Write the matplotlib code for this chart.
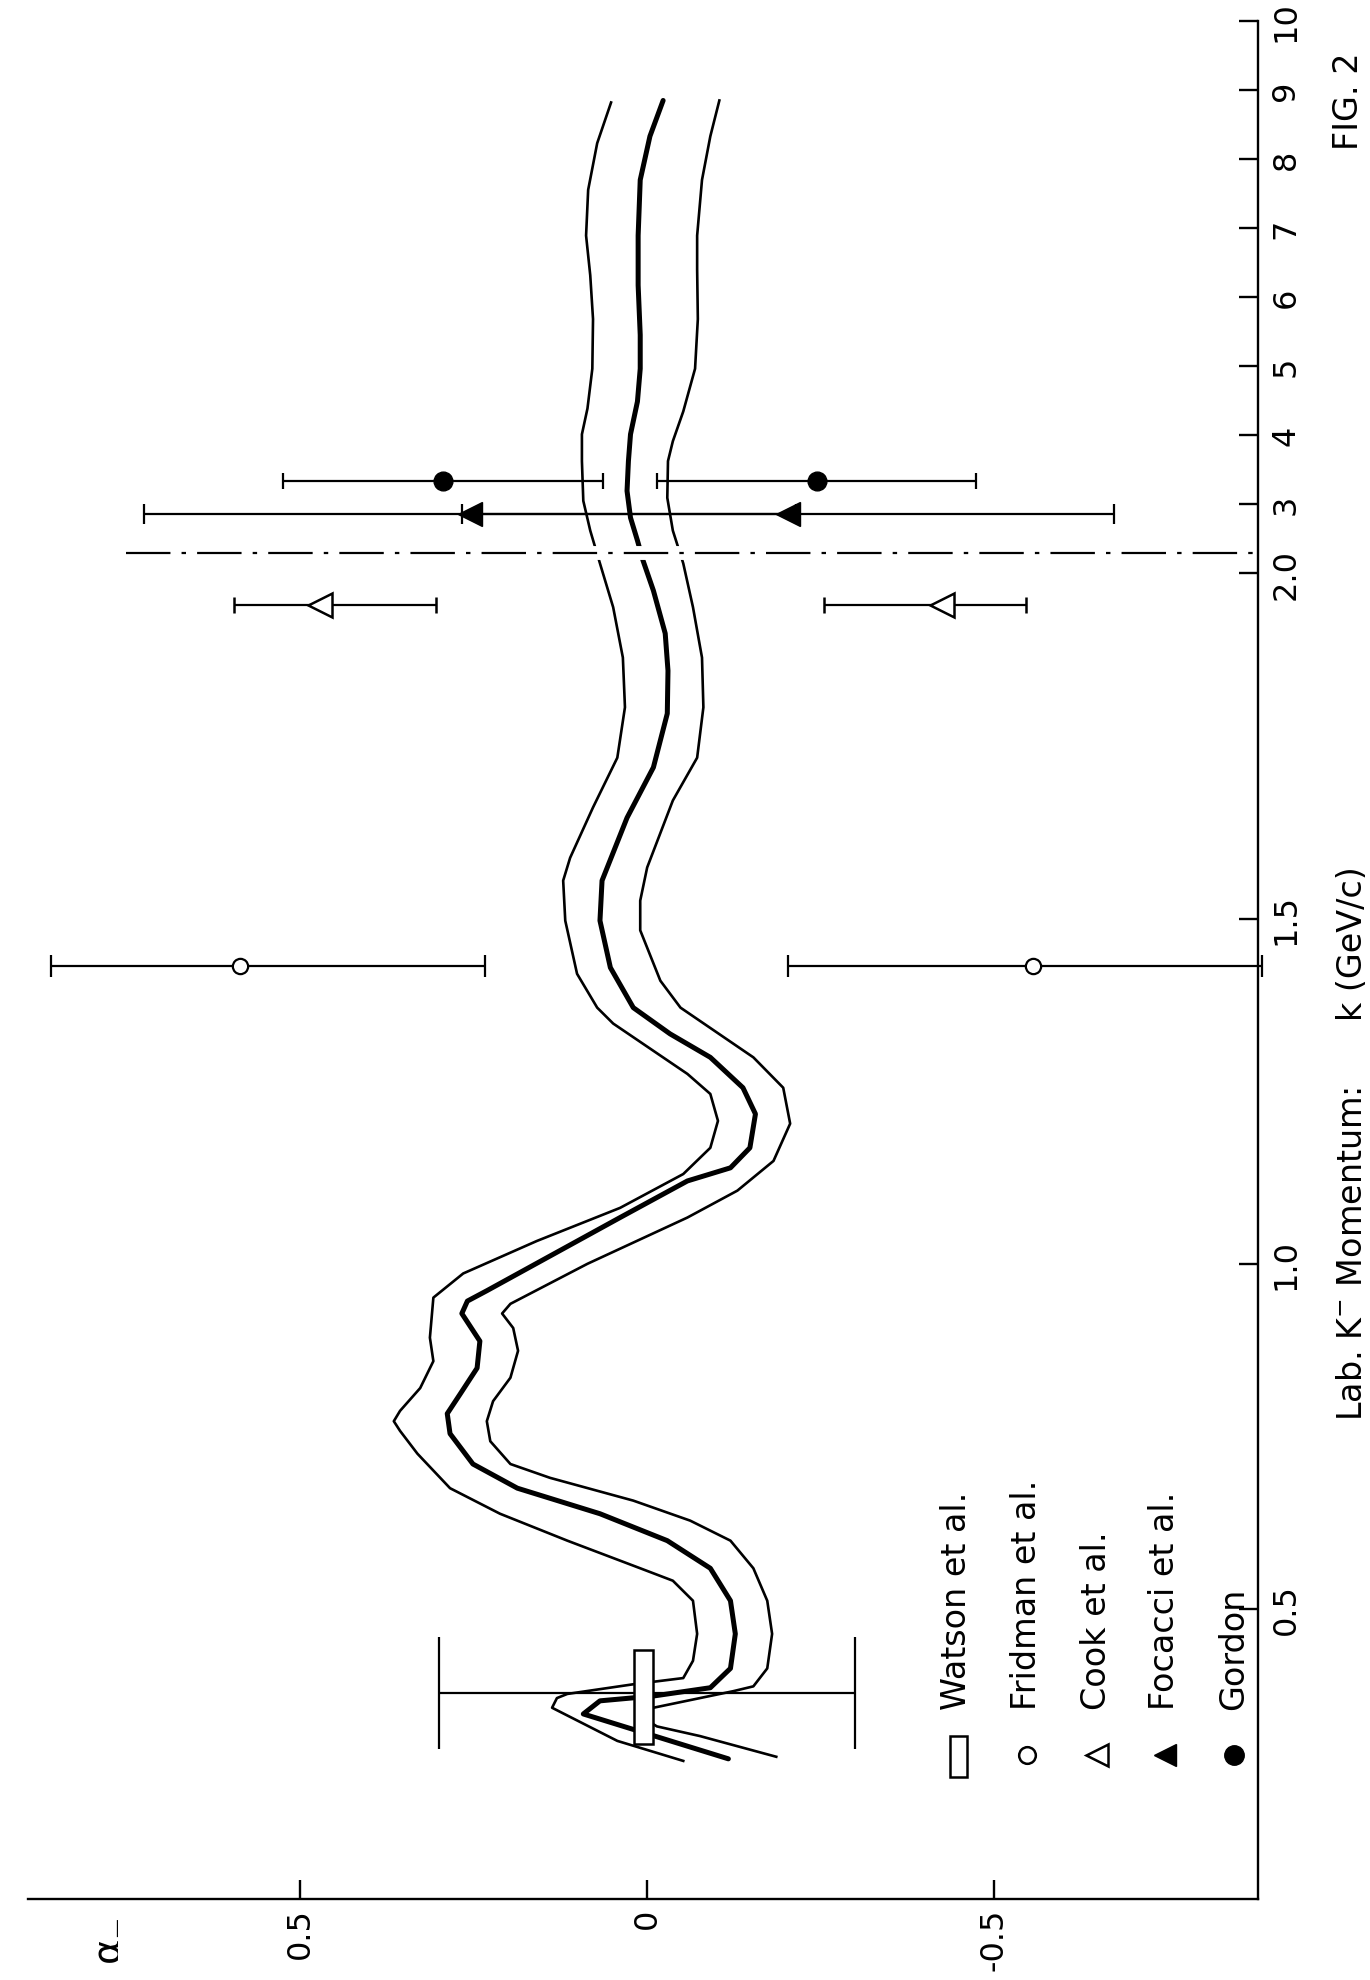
import numpy as np
import matplotlib.pyplot as plt
from matplotlib.patches import Rectangle
from matplotlib.lines import Line2D

# central solution (thick) and the two error-band edges (thin)
K_MID = [0.283, 0.348, 0.367, 0.374, 0.386, 0.414, 0.464, 0.512, 0.559, 0.599,
         0.638, 0.675, 0.710, 0.754, 0.783, 0.812, 0.849, 0.888, 0.928, 0.946,
         0.961, 1.014, 1.067, 1.120, 1.139, 1.168, 1.217, 1.255, 1.299, 1.333,
         1.371, 1.429, 1.497, 1.555, 1.646, 1.719, 1.797, 1.859, 1.913, 1.975,
         2.187, 2.475, 2.806, 3.194, 3.626, 4.014, 4.489, 4.964, 5.453, 6.173,
         6.892, 7.698, 8.331, 8.849]
A_MID = [-0.117, 0.092, 0.068, -0.009, -0.091, -0.120, -0.127, -0.120, -0.091, -0.029,
         0.068, 0.187, 0.251, 0.284, 0.288, 0.269, 0.245, 0.241, 0.267, 0.259,
         0.231, 0.135, 0.039, -0.058, -0.120, -0.148, -0.156, -0.138, -0.091, -0.033,
         0.020, 0.053, 0.068, 0.065, 0.029, -0.009, -0.029, -0.030, -0.026, -0.009,
         0.006, 0.014, 0.024, 0.029, 0.027, 0.024, 0.014, 0.010, 0.010, 0.013,
         0.013, 0.010, -0.004, -0.023]

K_UP = [0.280, 0.309, 0.357, 0.371, 0.377, 0.391, 0.400, 0.425, 0.464, 0.512,
        0.541, 0.559, 0.599, 0.638, 0.675, 0.725, 0.758, 0.772, 0.787, 0.820,
        0.859, 0.893, 0.951, 0.986, 1.033, 1.081, 1.130, 1.168, 1.207, 1.246,
        1.275, 1.348, 1.371, 1.420, 1.497, 1.555, 1.588, 1.661, 1.733, 1.806,
        1.878, 1.951, 2.144, 2.619, 3.050, 3.626, 4.014, 4.388, 4.964, 5.683,
        6.317, 6.892, 7.554, 8.230, 8.820]
A_UP = [-0.052, 0.043, 0.137, 0.130, 0.115, 0.020, -0.052, -0.066, -0.072, -0.066,
        -0.037, 0.010, 0.115, 0.212, 0.284, 0.331, 0.356, 0.365, 0.356, 0.327,
        0.308, 0.313, 0.308, 0.265, 0.159, 0.039, -0.052, -0.091, -0.102, -0.091,
        -0.058, 0.049, 0.072, 0.101, 0.118, 0.121, 0.111, 0.078, 0.043, 0.032,
        0.035, 0.049, 0.068, 0.082, 0.092, 0.094, 0.094, 0.086, 0.079, 0.078,
        0.082, 0.088, 0.085, 0.072, 0.052]

K_LO = [0.286, 0.316, 0.330, 0.345, 0.357, 0.381, 0.388, 0.414, 0.464, 0.512,
        0.559, 0.599, 0.628, 0.657, 0.690, 0.710, 0.743, 0.772, 0.801, 0.835,
        0.874, 0.907, 0.928, 0.942, 1.000, 1.067, 1.106, 1.149, 1.203, 1.255,
        1.299, 1.371, 1.410, 1.483, 1.526, 1.574, 1.671, 1.733, 1.806, 1.878,
        1.951, 2.144, 2.619, 3.094, 3.626, 3.914, 4.345, 4.964, 5.683, 6.403,
        6.892, 7.698, 8.331, 8.849]
A_LO = [-0.186, -0.076, -0.014, 0.010, -0.009, -0.124, -0.153, -0.173, -0.180, -0.173,
        -0.153, -0.120, -0.062, 0.020, 0.140, 0.197, 0.226, 0.231, 0.222, 0.197,
        0.186, 0.193, 0.209, 0.197, 0.086, -0.058, -0.130, -0.182, -0.206, -0.196,
        -0.153, -0.048, -0.019, 0.010, 0.010, 0.000, -0.037, -0.072, -0.081, -0.079,
        -0.066, -0.052, -0.037, -0.029, -0.030, -0.037, -0.052, -0.069, -0.073, -0.072,
        -0.072, -0.079, -0.091, -0.104]

# measurements: alpha values with (lower, upper) errors
WATSON_K = [0.378]
WATSON_A = [0.0]
WATSON_ERR = [0.30]
WATSON_KSPAN = (0.305, 0.440)
WATSON_ASPAN = (-0.009, 0.019)

FRIDMAN_K = [1.432, 1.432]
FRIDMAN_A = [0.586, -0.556]
FRIDMAN_LO = [0.353, 0.330]
FRIDMAN_HI = [0.273, 0.353]

COOK_K = [1.954, 1.954]
COOK_A = [0.471, -0.425]
COOK_LO = [0.167, 0.121]
COOK_HI = [0.124, 0.170]

FOCACCI_K = [2.86, 2.86]
FOCACCI_A = [0.255, -0.203]
FOCACCI_ERR = [0.47, 0.47]

GORDON_K = [3.34, 3.34]
GORDON_A = [0.294, -0.244]
GORDON_ERR = [0.23, 0.23]

BREAK_K = 2.30

K_TICKS = [0.5, 1.0, 1.5, 2.0, 3, 4, 5, 6, 7, 8, 9, 10]
K_LABELS = ["0.5", "1.0", "1.5", "2.0", "3", "4", "5", "6", "7", "8", "9", "10"]
A_TICKS = [0.5, 0, -0.5]
A_LABELS = ["0.5", "0", "-0.5"]

LEGEND_LABELS = ["Watson et al.", "Fridman et al.", "Cook et al.",
                 "Focacci et al.", "Gordon"]


def fwd(k):
    k = np.asarray(k, dtype=float)
    return np.where(k <= 2, k, 2 + (k - 2) / 10.0)


def inv(u):
    u = np.asarray(u, dtype=float)
    return np.where(u <= 2, u, 2 + (u - 2) * 10.0)


W, H = 1370, 1981
fig = plt.figure(figsize=(W / 100, H / 100), dpi=100)


def fx(x):
    return x / W


def fy(y):
    return 1 - y / H


# the page is printed sideways: alpha runs right-to-left along the bottom,
# momentum runs upward along the right edge
ax = fig.add_axes([fx(28), fy(1900), fx(1258) - fx(28), fy(22) - fy(1900)])
ax.set_yscale("function", functions=(fwd, inv))
ax.set_xlim(0.892, -0.880)
ax.set_ylim(0.08, 10)

for s in ("top", "left"):
    ax.spines[s].set_visible(False)
for s in ("bottom", "right"):
    ax.spines[s].set_linewidth(1.7)

ax.yaxis.tick_right()
ax.set_yticks(K_TICKS)
ax.set_yticklabels(K_LABELS)
ax.set_xticks(A_TICKS)
ax.set_xticklabels(A_LABELS)
ax.minorticks_off()
ax.tick_params(axis="both", direction="in", length=14, width=1.7,
               labelsize=23)
ax.tick_params(axis="x", pad=6)
ax.tick_params(axis="y", pad=9)
for lbl in ax.get_xticklabels():
    lbl.set_rotation(90)
for lbl in ax.get_yticklabels():
    lbl.set_rotation(90)
    lbl.set_va("center")

# curves
ax.plot(A_UP, K_UP, color="black", lw=1.9, zorder=2)
ax.plot(A_LO, K_LO, color="black", lw=1.9, zorder=2)
ax.plot(A_MID, K_MID, color="black", lw=3.6, zorder=2,
        solid_capstyle="round", solid_joinstyle="round")

# threshold line; the curves are broken where they cross it
ax.axhline(BREAK_K, xmin=0.40, xmax=0.62, color="white", lw=10, zorder=2.5)
ax.axhline(BREAK_K, xmin=0.08, xmax=1.0, color="black", lw=1.6,
           dashes=(20, 5, 2, 5), zorder=2.6)

ebkw = dict(color="black", ecolor="black", elinewidth=1.6, capthick=1.6,
            zorder=3, clip_on=False)

ax.errorbar(WATSON_A, WATSON_K, xerr=WATSON_ERR, fmt="none", capsize=40, **ebkw)
ax.add_patch(Rectangle((WATSON_ASPAN[0], WATSON_KSPAN[0]),
                       WATSON_ASPAN[1] - WATSON_ASPAN[0],
                       WATSON_KSPAN[1] - WATSON_KSPAN[0],
                       facecolor="white", edgecolor="black", lw=1.8, zorder=4))

ax.errorbar(FRIDMAN_A, FRIDMAN_K, xerr=[FRIDMAN_LO, FRIDMAN_HI], fmt="o",
            ms=11, mfc="white", mec="black", mew=1.6, capsize=8, **ebkw)
ax.errorbar(COOK_A, COOK_K, xerr=[COOK_LO, COOK_HI], fmt="<",
            ms=17, mfc="white", mec="black", mew=1.8, capsize=6, **ebkw)
ax.errorbar(FOCACCI_A, FOCACCI_K, xerr=FOCACCI_ERR, fmt="<",
            ms=17, mfc="black", mec="black", capsize=7, **ebkw)
ax.errorbar(GORDON_A, GORDON_K, xerr=GORDON_ERR, fmt="o",
            ms=13.5, mfc="black", mec="black", capsize=5.5, **ebkw)

# hand-drawn key in the lower left corner
key_x = [957, 1027, 1097, 1165, 1234]
key_styles = [None,
              dict(marker="o", ms=12, mfc="white", mec="black", mew=1.8),
              dict(marker="<", ms=16, mfc="white", mec="black", mew=1.8),
              dict(marker="<", ms=16, mfc="black", mec="black"),
              dict(marker="o", ms=14, mfc="black", mec="black")]
for x, label, st in zip(key_x, LEGEND_LABELS, key_styles):
    if st is None:
        fig.add_artist(Rectangle((fx(950), fy(1778)), fx(967) - fx(950),
                                 fy(1737) - fy(1778), transform=fig.transFigure,
                                 facecolor="white", edgecolor="black", lw=1.8))
    else:
        fig.add_artist(Line2D([fx(x)], [fy(1756)], transform=fig.transFigure,
                              linestyle="none", **st))
    fig.text(fx(x), fy(1710), label, rotation=90, ha="center", va="bottom",
             fontsize=24)

fig.text(fx(105), fy(1941), r"α$_{-}$", rotation=90, ha="center",
         va="center", fontsize=28)
fig.text(fx(1352), fy(1421), r"Lab. K$^{-}$ Momentum:", rotation=90,
         ha="center", va="bottom", fontsize=24)
fig.text(fx(1352), fy(1021), "k (GeV/c)", rotation=90, ha="center",
         va="bottom", fontsize=24)
fig.text(fx(1348), fy(150), "FIG. 2", rotation=90, ha="center", va="bottom",
         fontsize=24)

fig.savefig("out.png", dpi=100, facecolor="white")
